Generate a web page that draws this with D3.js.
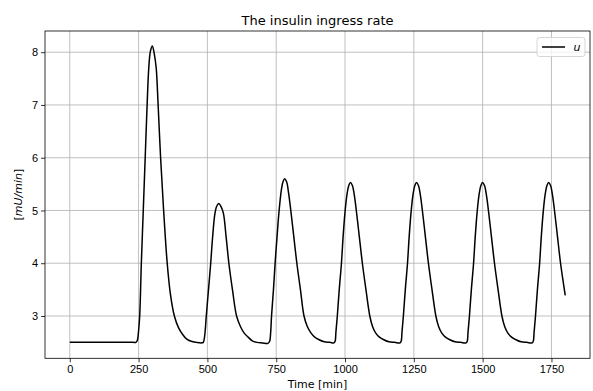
<!DOCTYPE html>
<html>
<head>
<meta charset="utf-8">
<script src="https://cdn.jsdelivr.net/npm/d3@7"></script>
<style>
  body { margin: 0; background: #fff; }
  svg { font-family: "DejaVu Sans", sans-serif; }
  .grid line { stroke: #b0b0b0; stroke-width: 0.8; }
  .axis path, .axis line { stroke: #000; stroke-width: 0.8; }
  .axis text { font-size: 11px; fill: #000; }
</style>
</head>
<body>
<svg id="chart" width="593" height="391"></svg>
<script>
// time samples [min]
const timeMin = [
  0, 80, 160, 230, 240, 245, 250, 254, 260, 267, 274, 281, 287, 293, 300, 307, 314, 321, 330, 341, 354, 366, 380,
  395, 410, 425, 441, 460, 478,
  485, 490, 496, 504, 512, 519, 527, 533, 541, 549, 558, 568, 578, 591, 606, 620, 633, 648, 663,
  680, 700, 720,
  726, 730, 733, 740, 746, 753, 760, 769, 775, 781, 788, 795, 803, 814, 825, 838, 851, 863, 876,
  890, 906, 925, 945, 960,
  964, 967, 972, 979, 987, 993, 1000, 1007, 1014, 1020, 1027, 1034, 1041, 1052, 1063, 1076, 1090,
  1100, 1111, 1125, 1141, 1160, 1180, 1200,
  1204, 1207, 1212, 1219, 1227, 1233, 1240, 1247, 1254, 1260, 1267, 1274, 1281, 1292, 1303, 1316,
  1330, 1340, 1351, 1365, 1381, 1400, 1420, 1440,
  1444, 1447, 1452, 1459, 1467, 1473, 1480, 1487, 1494, 1500, 1507, 1514, 1521, 1532, 1543, 1556,
  1570, 1580, 1591, 1605, 1621, 1640, 1660, 1680,
  1684, 1687, 1692, 1699, 1707, 1713, 1720, 1727, 1734, 1740, 1747, 1754, 1761, 1772, 1783, 1794,
  1800
];

// insulin ingress rate u [mU/min]
const uRate = [
  2.5, 2.5, 2.5, 2.5, 2.5, 2.53, 2.72, 3.0, 4.0, 5.0, 6.0, 7.0, 7.7, 8.02, 8.12, 7.97, 7.7, 7.0, 6.0, 5.0, 4.0, 3.4, 3.0,
  2.78, 2.65, 2.56, 2.52, 2.5, 2.49,
  2.5, 2.62, 3.0, 3.5, 4.0, 4.5, 4.93, 5.07, 5.13, 5.08, 4.95, 4.5, 4.0, 3.5, 3.0, 2.8, 2.68, 2.6, 2.53,
  2.5, 2.49, 2.48,
  2.52, 2.7, 3.0, 3.5, 4.0, 4.5, 4.97, 5.4, 5.55, 5.6, 5.54, 5.33, 5.0, 4.5, 4.0, 3.5, 3.0, 2.8, 2.68,
  2.6, 2.55, 2.51, 2.5, 2.49,
  2.52, 2.7, 3.0, 3.5, 4.0, 4.5, 4.97, 5.3, 5.48, 5.53, 5.47, 5.28, 5.0, 4.5, 4.0, 3.5, 3.0,
  2.8, 2.68, 2.6, 2.55, 2.51, 2.5, 2.49,
  2.52, 2.7, 3.0, 3.5, 4.0, 4.5, 4.97, 5.3, 5.48, 5.53, 5.47, 5.28, 5.0, 4.5, 4.0, 3.5,
  3.0, 2.8, 2.68, 2.6, 2.55, 2.51, 2.5, 2.49,
  2.52, 2.7, 3.0, 3.5, 4.0, 4.5, 4.97, 5.3, 5.48, 5.53, 5.47, 5.28, 5.0, 4.5, 4.0, 3.5,
  3.0, 2.8, 2.68, 2.6, 2.55, 2.51, 2.5, 2.49,
  2.52, 2.7, 3.0, 3.5, 4.0, 4.5, 4.97, 5.3, 5.48, 5.53, 5.47, 5.28, 5.0, 4.5, 4.0, 3.6,
  3.39
];

const xTicks = [0, 250, 500, 750, 1000, 1250, 1500, 1750];
const yTicks = [3, 4, 5, 6, 7, 8];

const TITLE = "The insulin ingress rate";
const X_LABEL = "Time [min]";
const LEGEND_LABEL = "u";

const svg = d3.select("#chart");
const M = { left: 45, right: 590, top: 31, bottom: 358.3 };

const points = timeMin.map((t, i) => ({ t, u: uRate[i] }));

// matplotlib style 5% margins
const tExt = d3.extent(timeMin);
const uExt = d3.extent(uRate);
const tPad = (tExt[1] - tExt[0]) * 0.05;
const uPad = (uExt[1] - uExt[0]) * 0.05;

const x = d3.scaleLinear().domain([tExt[0] - tPad, tExt[1] + tPad]).range([M.left, M.right]);
const y = d3.scaleLinear().domain([uExt[0] - uPad, uExt[1] + uPad]).range([M.bottom, M.top]);

// grid
const grid = svg.append("g").attr("class", "grid");
grid.selectAll("line.vx").data(xTicks).enter().append("line")
  .attr("x1", (d) => x(d)).attr("x2", (d) => x(d))
  .attr("y1", M.top).attr("y2", M.bottom);
grid.selectAll("line.hy").data(yTicks).enter().append("line")
  .attr("x1", M.left).attr("x2", M.right)
  .attr("y1", (d) => y(d)).attr("y2", (d) => y(d));

// line
const line = d3.line().x((d) => x(d.t)).y((d) => y(d.u)).curve(d3.curveCatmullRom.alpha(0.5));
svg.append("path")
  .datum(points)
  .attr("d", line)
  .attr("fill", "none")
  .attr("stroke", "#000")
  .attr("stroke-width", 1.5)
  .attr("stroke-linejoin", "round");

// axes
svg.append("g").attr("class", "axis")
  .attr("transform", `translate(0,${M.bottom})`)
  .call(d3.axisBottom(x).tickValues(xTicks).tickSize(4).tickPadding(3).tickSizeOuter(0).tickFormat(d3.format("d")))
  .call((g) => g.select(".domain").remove());
svg.append("g").attr("class", "axis")
  .attr("transform", `translate(${M.left},0)`)
  .call(d3.axisLeft(y).tickValues(yTicks).tickSize(4).tickPadding(3).tickFormat(d3.format("d")))
  .call((g) => g.select(".domain").remove());

// frame
svg.append("rect")
  .attr("x", M.left).attr("y", M.top)
  .attr("width", M.right - M.left).attr("height", M.bottom - M.top)
  .attr("fill", "none").attr("stroke", "#000").attr("stroke-width", 0.8);

// title and labels
svg.append("text")
  .attr("x", (M.left + M.right) / 2).attr("y", 25)
  .attr("text-anchor", "middle").attr("font-size", 13)
  .text(TITLE);

svg.append("text")
  .attr("x", (M.left + M.right) / 2).attr("y", 388)
  .attr("text-anchor", "middle").attr("font-size", 11)
  .text(X_LABEL);

const yl = svg.append("text")
  .attr("transform", `translate(22,${(M.top + M.bottom) / 2}) rotate(-90)`)
  .attr("text-anchor", "middle").attr("font-size", 11);
yl.append("tspan").text("[");
yl.append("tspan").attr("font-style", "italic").text("mU/min");
yl.append("tspan").text("]");

// legend
const lg = svg.append("g").attr("transform", `translate(${M.right - 53},${M.top + 6.5})`);
lg.append("rect")
  .attr("width", 48).attr("height", 19).attr("rx", 2.5)
  .attr("fill", "#fff").attr("fill-opacity", 0.8)
  .attr("stroke", "#cccccc").attr("stroke-width", 0.8);
lg.append("line")
  .attr("x1", 5).attr("x2", 28).attr("y1", 9.5).attr("y2", 9.5)
  .attr("stroke", "#000").attr("stroke-width", 1.5);
lg.append("text")
  .attr("x", 36.5).attr("y", 13.5)
  .attr("font-size", 11).attr("font-style", "italic")
  .text(LEGEND_LABEL);
</script>
</body>
</html>
